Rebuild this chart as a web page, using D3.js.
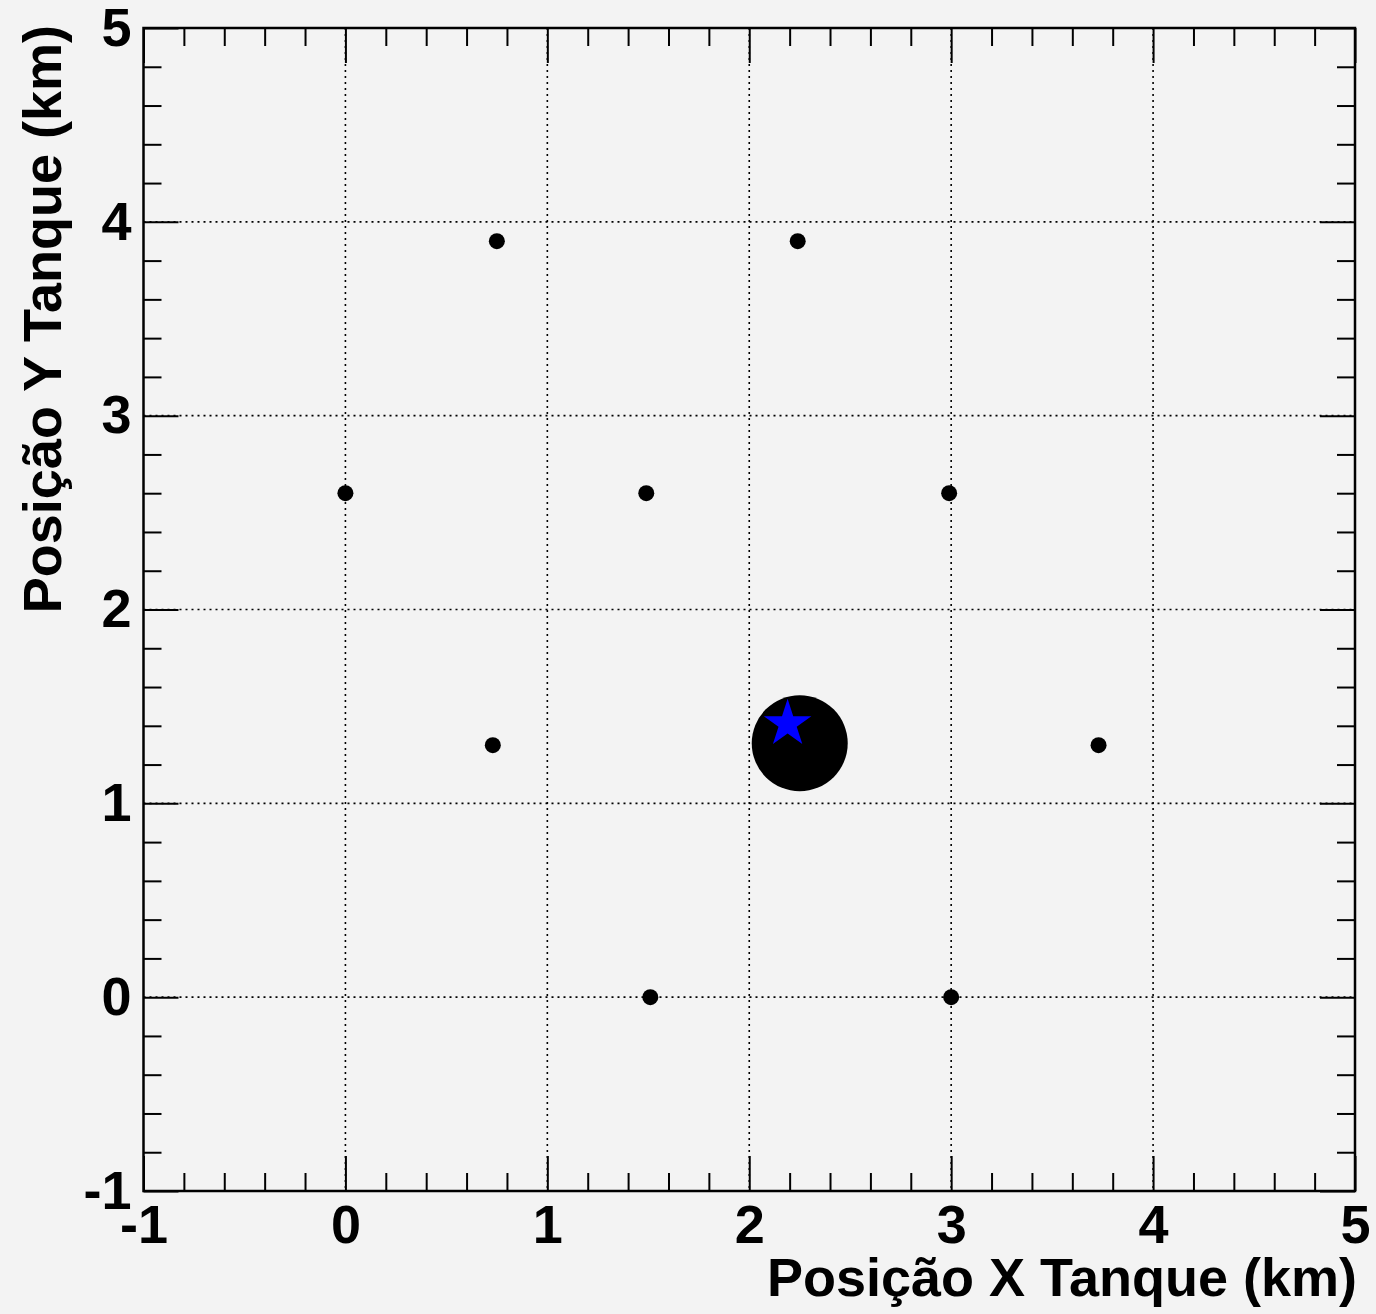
<!DOCTYPE html>
<html>
<head>
<meta charset="utf-8">
<script src="https://cdn.jsdelivr.net/npm/d3@7"></script>
<style>
  body { margin: 0; background: #f3f3f3; }
  svg { display: block; }
  text { font-family: "Liberation Sans", Arial, Helvetica, sans-serif; font-weight: bold; }
</style>
</head>
<body>
<div id="chart"></div>
<script>
// tank positions (km)
var tankX = [0.75, 2.24, 0.0, 1.49, 2.99, 0.73, 3.73, 1.51, 3.0];
var tankY = [3.9, 3.9, 2.6, 2.6, 2.6, 1.3, 1.3, 0.0, 0.0];

// hit tank (big marker) and reconstructed core (star)
var hitX = [2.25], hitY = [1.31];
var coreX = [2.19], coreY = [1.41];

var xTicks = [-1, 0, 1, 2, 3, 4, 5];
var yTicks = [-1, 0, 1, 2, 3, 4, 5];
var gridVals = [0, 1, 2, 3, 4];

var xTitle = "Posição X Tanque (km)";
var yTitle = "Posição Y Tanque (km)";

var W = 1376, H = 1314;
var padL = 143.5, padR = 1355, padT = 28, padB = 1191;

var svg = d3.select('#chart')
  .append('svg')
  .attr('width', W)
  .attr('height', H);

svg.append('rect').attr('width', W).attr('height', H).attr('fill', '#f3f3f3');

var x = d3.scaleLinear().domain([-1, 5]).range([padL, padR]);
var y = d3.scaleLinear().domain([-1, 5]).range([padB, padT]);

// minor ticks every 0.2
var minor = d3.range(-1, 5.0001, 0.2).map(function(d) { return +d.toFixed(1); })
  .filter(function(d) { return xTicks.indexOf(d) < 0; });

var fmt = function(d) { return String(d); };

// grid
var grid = svg.append('g')
  .attr('stroke', '#000')
  .attr('stroke-width', 1.6)
  .attr('stroke-dasharray', '2,4');
grid.selectAll('.gx').data(gridVals).enter().append('line')
  .attr('x1', function(d) { return x(d); }).attr('x2', function(d) { return x(d); })
  .attr('y1', padT).attr('y2', padB);
grid.selectAll('.gy').data(gridVals).enter().append('line')
  .attr('y1', function(d) { return y(d); }).attr('y2', function(d) { return y(d); })
  .attr('x1', padL).attr('x2', padR);

function styleAxis(g) {
  g.select('.domain').remove();
  g.selectAll('line').attr('stroke', '#000').attr('stroke-width', 2);
  g.selectAll('text').attr('fill', '#000').style('font-size', '54px');
}

// bottom
svg.append('g').attr('transform', 'translate(0,' + padB + ')')
  .call(d3.axisBottom(x).tickValues(xTicks).tickSize(-35).tickPadding(14).tickFormat(fmt))
  .call(styleAxis);
svg.append('g').attr('transform', 'translate(0,' + padB + ')')
  .call(d3.axisBottom(x).tickValues(minor).tickSize(-18).tickFormat(''))
  .call(styleAxis);
// top
svg.append('g').attr('transform', 'translate(0,' + padT + ')')
  .call(d3.axisTop(x).tickValues(xTicks).tickSize(-35).tickFormat(''))
  .call(styleAxis);
svg.append('g').attr('transform', 'translate(0,' + padT + ')')
  .call(d3.axisTop(x).tickValues(minor).tickSize(-18).tickFormat(''))
  .call(styleAxis);
// left
svg.append('g').attr('transform', 'translate(' + padL + ',0)')
  .call(d3.axisLeft(y).tickValues(yTicks).tickSize(-35).tickPadding(12).tickFormat(fmt))
  .call(styleAxis);
svg.append('g').attr('transform', 'translate(' + padL + ',0)')
  .call(d3.axisLeft(y).tickValues(minor).tickSize(-18).tickFormat(''))
  .call(styleAxis);
// right
svg.append('g').attr('transform', 'translate(' + padR + ',0)')
  .call(d3.axisRight(y).tickValues(yTicks).tickSize(-35).tickFormat(''))
  .call(styleAxis);
svg.append('g').attr('transform', 'translate(' + padR + ',0)')
  .call(d3.axisRight(y).tickValues(minor).tickSize(-18).tickFormat(''))
  .call(styleAxis);

// frame
svg.append('rect')
  .attr('x', padL).attr('y', padT)
  .attr('width', padR - padL).attr('height', padB - padT)
  .attr('fill', 'none').attr('stroke', '#000').attr('stroke-width', 2.5);

// tanks
svg.append('g').selectAll('circle').data(tankX).enter().append('circle')
  .attr('cx', function(d) { return x(d); })
  .attr('cy', function(d, i) { return y(tankY[i]); })
  .attr('r', 8)
  .attr('fill', '#000');

svg.append('g').selectAll('circle').data(hitX).enter().append('circle')
  .attr('cx', function(d) { return x(d); })
  .attr('cy', function(d, i) { return y(hitY[i]); })
  .attr('r', 48)
  .attr('fill', '#000');

var R = 25;
svg.append('g').selectAll('path').data(coreX).enter().append('path')
  .attr('d', d3.symbol().type(d3.symbolStar).size(R * R / 0.8908130915292852))
  .attr('transform', function(d, i) { return 'translate(' + x(d) + ',' + y(coreY[i]) + ')'; })
  .attr('fill', '#0000ff');

// titles
svg.append('text')
  .attr('x', padR + 2).attr('y', 1296)
  .attr('text-anchor', 'end')
  .style('font-size', '54px')
  .text(xTitle);

svg.append('text')
  .attr('transform', 'translate(61,' + (padT - 3) + ') rotate(-90)')
  .attr('text-anchor', 'end')
  .style('font-size', '54px')
  .text(yTitle);
</script>
</body>
</html>
